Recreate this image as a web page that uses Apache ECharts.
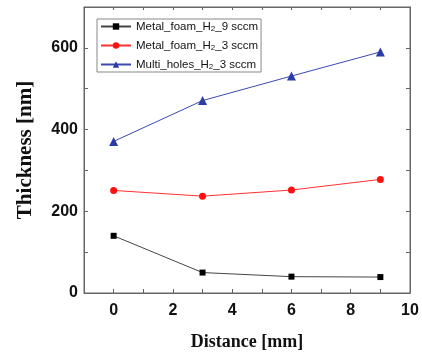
<!DOCTYPE html>
<html><head><meta charset="utf-8">
<script src="https://cdn.jsdelivr.net/npm/echarts@6/dist/echarts.min.js"></script>
<style>html,body{margin:0;padding:0;background:#fff}#c{width:422px;height:356px}</style>
</head><body><div id="c"></div>
<script>
const distances = [0, 3, 6, 9];
const foam9 = [140, 50, 40, 39];
const foam3 = [251, 237, 252, 278];
const multi3 = [371, 471, 531, 590];
const xLabels = [0, 2, 4, 6, 8, 10];
const yLabels = [0, 200, 400, 600];
const names = ['Metal_foam_H{s|2}_9 sccm', 'Metal_foam_H{s|2}_3 sccm', 'Multi_holes_H{s|2}_3 sccm'];
const keys = ['f9', 'f3', 'm3'];

const pair = v => distances.map((d, i) => [d, v[i]]);
const axisCol = '#666';
const tickFont = {fontFamily: '"Liberation Sans",Arial', fontWeight: 'bold', fontSize: 16, color: '#111'};
const titleFont = {fontFamily: '"Liberation Serif","Times New Roman",serif', fontWeight: 'bold', color: '#111'};

const chart = echarts.init(document.getElementById('c'));
const series = [
  {key: 'f9', data: foam9, line: '#444', mk: '#000', sym: 'rect', size: 6},
  {key: 'f3', data: foam3, line: '#ff3030', mk: '#ff1010', sym: 'circle', size: 7},
  {key: 'm3', data: multi3, line: '#3a4ab0', mk: '#2b3ca8', sym: 'triangle', size: 9}
].map(s => ({
  name: s.key, type: 'line', data: pair(s.data), symbol: s.sym, symbolSize: s.size,
  showSymbol: true, animation: false,
  lineStyle: {color: s.line, width: 1},
  itemStyle: {color: s.mk}
}));

const tick = len => ({show: true, inside: true, length: len, lineStyle: {color: axisCol, width: 1}});

chart.setOption({
  animation: false,
  grid: {left: 84, right: 12, top: 7, bottom: 63, show: true, borderColor: axisCol, borderWidth: 1},
  legend: {
    orient: 'vertical', left: 97, top: 19, data: keys,
    itemWidth: 30, itemHeight: 8, itemGap: 6,
    padding: [1, 3, 1, 3],
    borderColor: '#888', borderWidth: 1, backgroundColor: '#fff',
    formatter: n => names[keys.indexOf(n)],
    textStyle: {fontFamily: '"Liberation Sans",Arial', fontSize: 11.5, lineHeight: 13, color: '#111',
      rich: {s: {fontSize: 8, lineHeight: 13, verticalAlign: 'bottom', fontFamily: '"Liberation Sans",Arial'}}}
  },
  xAxis: [
    {type: 'value', min: -1, max: 10, interval: 1, position: 'bottom',
     axisLine: {onZero: false, lineStyle: {color: axisCol}},
     axisTick: tick(4),
     axisLabel: {customValues: xLabels, formatter: v => (v >= 0 && v % 2 === 0) ? String(v) : '', margin: 10, ...tickFont},
     splitLine: {show: false},
     name: 'Distance [mm]', nameLocation: 'middle', nameGap: 40,
     nameTextStyle: {...titleFont, fontSize: 18}},
    {type: 'value', min: -1, max: 10, interval: 1, position: 'top',
     axisLine: {show: true, onZero: false, lineStyle: {color: axisCol}},
     axisTick: tick(3),
     axisLabel: {show: false}, splitLine: {show: false}}
  ],
  yAxis: [
    {type: 'value', min: 0, max: 700, interval: 100, position: 'left',
     axisLine: {show: true, onZero: false, lineStyle: {color: axisCol}},
     axisTick: tick(4),
     axisLabel: {customValues: yLabels, formatter: v => (v % 200 === 0 && v < 700) ? String(v) : '', margin: 6, ...tickFont},
     splitLine: {show: false},
     name: 'Thickness [nm]', nameLocation: 'middle', nameGap: 48,
     nameTextStyle: {...titleFont, fontSize: 21}},
    {type: 'value', min: 0, max: 700, interval: 100, position: 'right',
     axisLine: {show: true, onZero: false, lineStyle: {color: axisCol}},
     axisTick: tick(4),
     axisLabel: {show: false}, splitLine: {show: false}}
  ],
  series: series
});
</script></body></html>
